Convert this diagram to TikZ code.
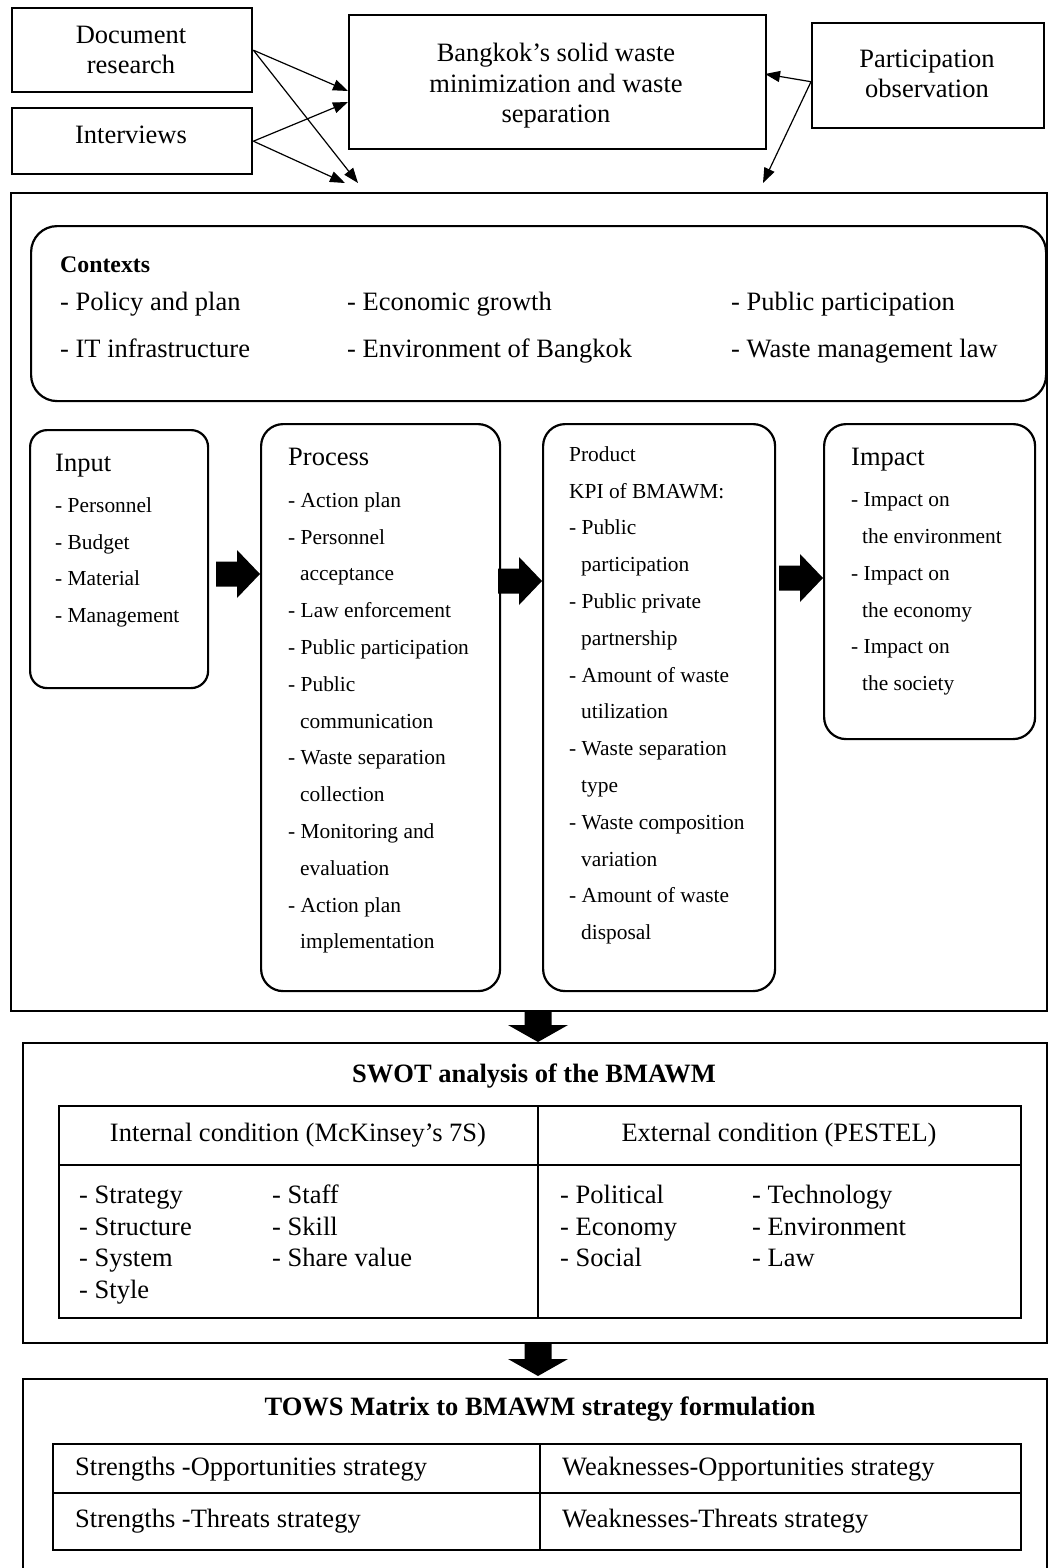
\documentclass[tikz,border=0pt]{standalone}
\usepackage{fontspec}
\setmainfont{Liberation Serif}
\usetikzlibrary{arrows.meta}

% right-pointing block arrow, given the middle of its tail
\newcommand\rblock[1]{%
  \fill (#1) ++(0,-12.5) -- ++(21,0) -- ++(0,-11.5) -- ++(23,24)
    -- ++(-23,24) -- ++(0,-11.5) -- ++(-21,0) -- cycle;}
% downward block arrow, given the middle of its tail
\newcommand\dblock[1]{%
  \fill (#1) ++(-13.5,0) -- ++(27,0) -- ++(0,15) -- ++(16.5,0)
    -- ++(-30,17) -- ++(-30,-17) -- ++(16.5,0) -- cycle;}

\begin{document}
\begin{tikzpicture}[x=1pt,y=-1pt,
  sq/.style={draw, line width=2.4pt, inner sep=0pt, anchor=north west},
  rnd/.style={sq, line width=2.2pt, rounded corners=#1},
  rnd/.default=22pt,
  grid/.style={line width=2pt},
  big/.style={font=\fontsize{26.5}{30.5}\selectfont, inner sep=0pt},
  bigb/.style={font=\fontsize{26.5}{30.5}\selectfont\bfseries, inner sep=0pt},
  head/.style={font=\fontsize{23.8}{28}\selectfont\bfseries, inner sep=0pt, anchor=base west},
  item/.style={big, anchor=base west},
  list/.style={font=\fontsize{21.4}{36.8}\selectfont, align=left, inner sep=0pt, anchor=north west},
  slist/.style={font=\fontsize{26.5}{31.8}\selectfont, align=left, inner sep=0pt, anchor=north west},
  conn/.style={line width=1.2pt, -{Triangle[length=15pt,width=11pt]}}
]
\useasboundingbox (0,0) rectangle (1048,1568);

% ---------- sources and topic ----------
% multi-line labels are placed by the baseline of their last line
\node[sq, minimum width=240pt, minimum height=84pt] (doc) at (11,7) {};
\node[big, align=center, anchor=base] (doctxt) at (131,74) {Document\\research};
\node[sq, minimum width=240pt, minimum height=66pt] (int) at (11,107) {};
\node[big, anchor=base] (inttxt) at (131,143) {Interviews};
\node[sq, minimum width=417pt, minimum height=134pt] (bk) at (348,14) {};
\node[big, align=center, anchor=base] (bktxt) at (556,123) {Bangkok's solid waste\\minimization and waste\\separation};
\node[sq, minimum width=232pt, minimum height=105pt] (part) at (811,22) {};
\node[big, align=center, anchor=base] (parttxt) at (927,98) {Participation\\observation};

\coordinate (bkA) at (348,91);
\coordinate (bkB) at (348,102);
\coordinate (bkC) at (765,74);
\coordinate (frA) at (358,183);
\coordinate (frB) at (345,183);
\coordinate (frC) at (763,183);
\draw[conn] (doc.east) -- (bkA);
\draw[conn] (doc.east) -- (frA);
\draw[conn] (int.east) -- (bkB);
\draw[conn] (int.east) -- (frB);
\draw[conn] ([yshift=-6pt]part.west) -- (bkC);
\draw[conn] ([yshift=-6pt]part.west) -- (frC);

% ---------- CIPP frame ----------
\node[sq, minimum width=1036pt, minimum height=818pt] (frame) at (10,192) {};

\node[rnd=26pt, minimum width=1015pt, minimum height=175pt] (ctx) at (30,225) {};
\node[head] (ctxh) at (60,272) {Contexts};
\node[item] (c1) at (60,310) {- Policy and plan};
\node[item] (c2) at (347,310) {- Economic growth};
\node[item] (c3) at (731,310) {- Public participation};
\node[item] (c4) at (60,357) {- IT infrastructure};
\node[item] (c5) at (347,357) {- Environment of Bangkok};
\node[item] (c6) at (731,357) {- Waste management law};

\node[rnd=17pt, minimum width=178pt, minimum height=258pt] (inp) at (29,429) {};
\node[item] (inph) at (55,471) {Input};
\node[list] (inpl) at (55,486.24) {\strut- Personnel\\- Budget\\- Material\\- Management};

\node[rnd, minimum width=239pt, minimum height=567pt] (proc) at (260,423) {};
\node[item] (proch) at (288,465) {Process};
\node[list] (procl) at (288,481.24) {\strut- Action plan\\
- Personnel\\
\hspace*{12pt}acceptance\\
- Law enforcement\\
- Public participation\\
- Public\\
\hspace*{12pt}communication\\
- Waste separation\\
\hspace*{12pt}collection\\
- Monitoring and\\
\hspace*{12pt}evaluation\\
- Action plan\\
\hspace*{12pt}implementation};

\node[rnd, minimum width=232pt, minimum height=567pt] (prod) at (542,423) {};
\node[list] (prodl) at (569,435.24) {\strut Product\\
KPI of BMAWM:\\
- Public\\
\hspace*{12pt}participation\\
- Public private\\
\hspace*{12pt}partnership\\
- Amount of waste\\
\hspace*{12pt}utilization\\
- Waste separation\\
\hspace*{12pt}type\\
- Waste composition\\
\hspace*{12pt}variation\\
- Amount of waste\\
\hspace*{12pt}disposal};

\node[rnd, minimum width=211pt, minimum height=315pt] (imp) at (823,423) {};
\node[item] (imph) at (851,465) {Impact};
\node[list] (impl) at (851,480.74) {\strut- Impact on\\
\hspace*{11pt}the environment\\
- Impact on\\
\hspace*{11pt}the economy\\
- Impact on\\
\hspace*{11pt}the society};

\coordinate (a1) at (216,574);
\coordinate (a2) at (498,581);
\coordinate (a3) at (779,578);
\rblock{a1}
\rblock{a2}
\rblock{a3}

% ---------- SWOT ----------
\coordinate (d1) at (538,1010);
\dblock{d1}
\node[sq, minimum width=1024pt, minimum height=300pt] (swot) at (22,1042) {};
\node[bigb, anchor=base] (swoth) at (534,1082) {SWOT analysis of the BMAWM};
\node[sq, grid, minimum width=962pt, minimum height=212pt] (swt) at (58,1105) {};
\coordinate (swl) at (58,1165);
\coordinate (swr) at (1020,1165);
\coordinate (swu) at (538,1105);
\coordinate (swd) at (538,1317);
\draw[grid] (swl) -- (swr);
\draw[grid] (swu) -- (swd);
\node[big, anchor=base] (inth) at (298,1141) {Internal condition (McKinsey's 7S)};
\node[big, anchor=base] (exth) at (779,1141) {External condition (PESTEL)};
\node[slist] (s1) at (79,1180.74) {\strut- Strategy\\- Structure\\- System\\- Style};
\node[slist] (s2) at (272,1180.74) {\strut- Staff\\- Skill\\- Share value};
\node[slist] (s3) at (560,1180.74) {\strut- Political\\- Economy\\- Social};
\node[slist] (s4) at (752,1180.74) {\strut- Technology\\- Environment\\- Law};

% ---------- TOWS ----------
\coordinate (d2) at (538,1344);
\dblock{d2}
\node[sq, minimum width=1024pt, minimum height=240pt] (tows) at (22,1378) {};
\node[bigb, anchor=base] (towsh) at (540,1415) {TOWS Matrix to BMAWM strategy formulation};
\node[sq, grid, minimum width=968pt, minimum height=106pt] (twt) at (52,1443) {};
\coordinate (twl) at (52,1493);
\coordinate (twr) at (1020,1493);
\coordinate (twu) at (540,1443);
\coordinate (twd) at (540,1549);
\draw[grid] (twl) -- (twr);
\draw[grid] (twu) -- (twd);
\node[item] (so) at (75,1475) {Strengths -Opportunities strategy};
\node[item] (wo) at (562,1475) {Weaknesses-Opportunities strategy};
\node[item] (st) at (75,1527) {Strengths -Threats strategy};
\node[item] (wt) at (562,1527) {Weaknesses-Threats strategy};
\end{tikzpicture}
\end{document}
